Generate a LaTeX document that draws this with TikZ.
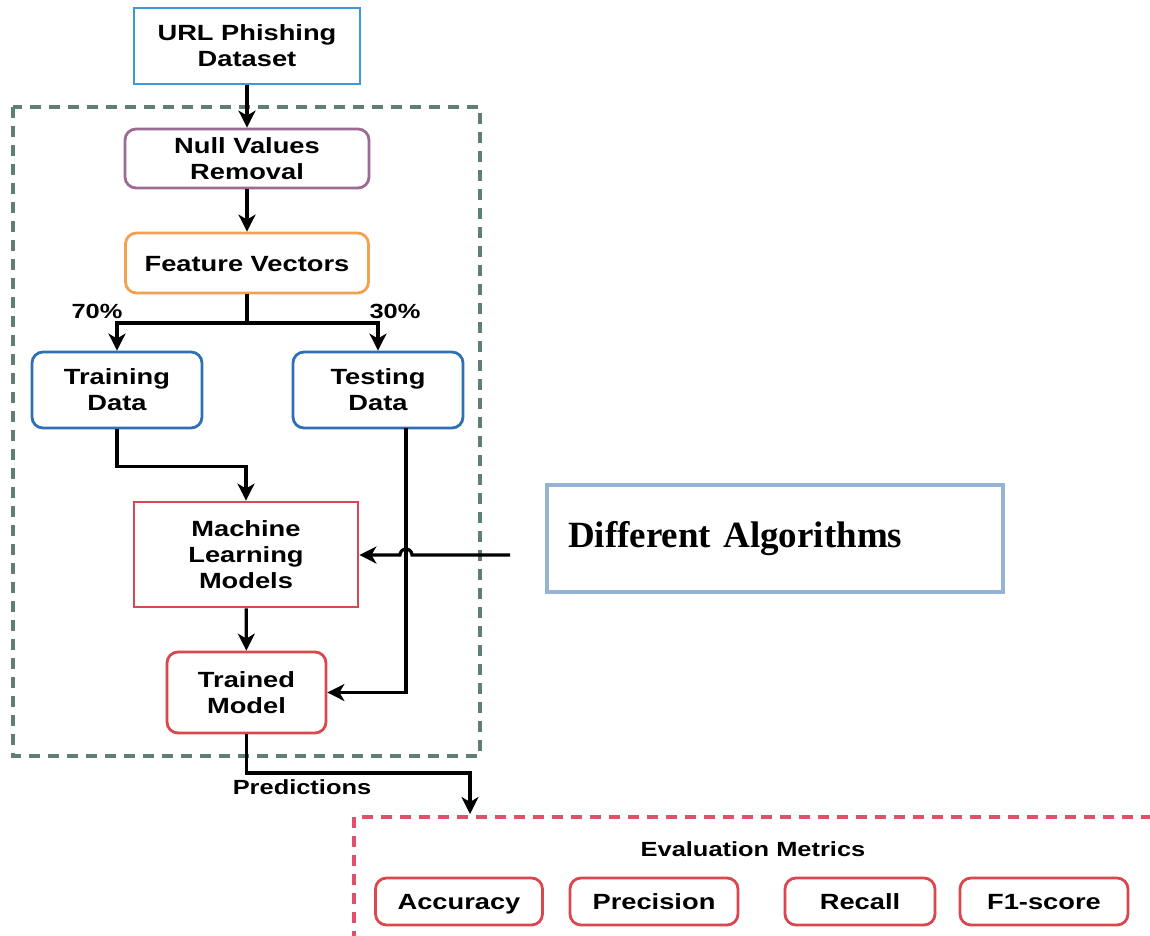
\documentclass[tikz,border=0pt]{standalone}
\usepackage{fontspec}
\newfontfamily\diagfont[FakeStretch=1.24]{Liberation Sans}
\newfontfamily\algfont{Liberation Serif}
\usetikzlibrary{arrows.meta}
\definecolor{cUrl}{HTML}{3C9AD8}
\definecolor{cNull}{HTML}{9B6B96}
\definecolor{cFeat}{HTML}{F0A250}
\definecolor{cData}{HTML}{2F6FB5}
\definecolor{cRed}{HTML}{D9474F}
\definecolor{cGreen}{HTML}{5E7F72}
\definecolor{cEval}{HTML}{E0506A}
\definecolor{cAlg}{HTML}{95B3D7}
\begin{document}
\begin{tikzpicture}[x=1pt,y=-1pt,
  every node/.style={font=\diagfont\bfseries\fontsize{22}{26}\selectfont, align=center, inner sep=0pt},
  sbox/.style={draw, line width=2.8pt},
  rbox/.style={draw, line width=2.8pt, rounded corners=11pt},
  mbox/.style={rbox, draw=cRed, minimum height=47pt, text height=16pt, text depth=0pt},
  lbl/.style={font=\diagfont\bfseries\fontsize{20.5}{24}\selectfont},
  conn/.style={line width=3.2pt},
  arr/.style={line width=3.2pt, -{Stealth[length=17pt,width=17pt,inset=5pt]}},
  gdash/.style={draw=cGreen, line width=3.2pt, dash pattern=on 11pt off 8pt},
  edash/.style={draw=cEval, line width=3.2pt, dash pattern=on 11pt off 8pt}]
\fill[white] (0,0) rectangle (1150,935);
\useasboundingbox (0,0) rectangle (1150,935);

% dashed groups
\draw[gdash] (13,107) rectangle (480,756);
\draw[edash] (354,817) rectangle (1175,965);

% nodes
\node[sbox, draw=cUrl, minimum width=226pt, minimum height=76pt] (url) at (247,46) {URL Phishing\\Dataset};
\node[rbox, draw=cNull, minimum width=244pt, minimum height=59pt] (null) at (247,158.5) {Null Values\\Removal};
\node[rbox, draw=cFeat, minimum width=243pt, minimum height=60pt, text height=16pt, text depth=0pt] (feat) at (247,263) {Feature Vectors};
\node[rbox, draw=cData, minimum width=170pt, minimum height=76pt] (train) at (117,390) {Training\\Data};
\node[rbox, draw=cData, minimum width=170pt, minimum height=76pt] (test) at (378,390) {Testing\\Data};
\node[sbox, draw=cRed, minimum width=224pt, minimum height=105pt] (ml) at (246,554.5) {Machine\\Learning\\Models};
\node[rbox, draw=cRed, minimum width=159pt, minimum height=81pt] (trained) at (246.5,692.5) {Trained\\Model};
\node[sbox, draw=cAlg, line width=3.2pt, minimum width=456pt, minimum height=107pt, text width=414pt, align=left,
      font=\algfont\bfseries\fontsize{37}{40}\selectfont] (alg) at (775,538.5) {Different Algorithms};

\node[lbl] (p70) at (97,311) {70\%};
\node[lbl] (p30) at (395,311) {30\%};
\node[lbl] (pred) at (302,787) {Predictions};
\node[lbl] (evt) at (753,849) {Evaluation Metrics};

\node[mbox, minimum width=167pt] (acc) at (459,901.5) {Accuracy};
\node[mbox, minimum width=168pt] (prec) at (654,901.5) {Precision};
\node[mbox, minimum width=150pt] (rec) at (860,901.5) {Recall};
\node[mbox, minimum width=168pt] (f1) at (1044,901.5) {F1-score};

% coordinates
\coordinate (split) at (247,323);
\coordinate (tOut) at (406,428);
\coordinate (aStart) at (510,555);
\coordinate (pTurn) at (470,773);
\coordinate (pEnd) at (470,814);

% connectors
\draw[arr] (url) -- (null);
\draw[arr] (null) -- (feat);
\draw[conn] (feat.south) -- (split);
\draw[arr] (split) -| (train.north);
\draw[arr] (split) -| (test.north);
\draw[arr] (train.south) -- ++(0,37) -| (ml.north);
\draw[arr] (ml) -- (trained);
\draw[arr] (tOut) |- (trained.east);
\draw[arr] (aStart) -- (412,555) arc[start angle=0, end angle=-180, radius=6] -- (ml.east |- aStart);
\draw[arr] (trained.south) |- (pTurn) -- (pEnd);
\end{tikzpicture}
\end{document}
